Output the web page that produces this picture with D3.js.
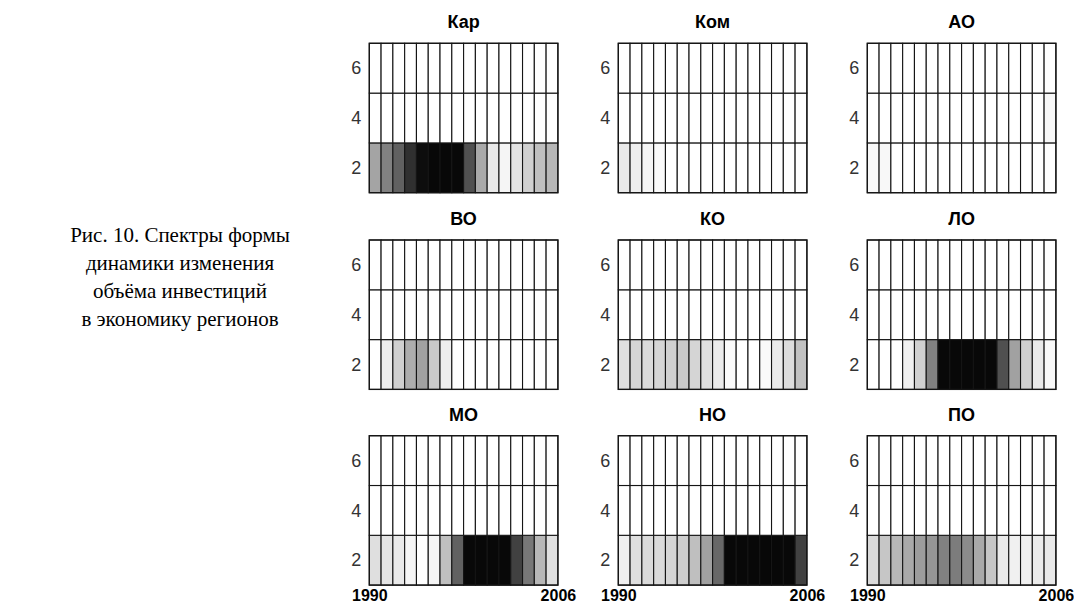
<!DOCTYPE html>
<html>
<head>
<meta charset="utf-8">
<script src="https://cdn.jsdelivr.net/npm/d3@7"></script>
<style>
  body { margin: 0; background: #fff; }
  svg { display: block; }
</style>
</head>
<body>
<div id="chart"></div>
<script>
// panels, row by row
const regions = ["Кар", "Ком", "АО", "ВО", "КО", "ЛО", "МО", "НО", "ПО"];
const levels = [2, 4, 6];
const years = d3.range(1990, 2006);      // start year of each column
const yearTicks = [1990, 2006];

// spectral intensity, 0 = white .. 100 = black (level 2 row)
const karLow = [37, 51, 64, 84, 98, 100, 100, 100, 71, 35, 9, 4, 11, 19, 26, 29];
const komLow = [9, 7, 4, 2, 0, 0, 0, 0, 0, 0, 0, 0, 0, 0, 0, 0];
const aoLow  = [3, 3, 0, 0, 0, 0, 0, 0, 0, 0, 0, 0, 0, 0, 0, 0];
const voLow  = [0, 7, 19, 33, 38, 22, 7, 0, 0, 0, 0, 0, 0, 0, 0, 0];
const koLow  = [13, 17, 15, 17, 19, 22, 17, 13, 8, 2, 0, 0, 2, 8, 14, 25];
const loLow  = [0, 0, 0, 6, 19, 51, 100, 100, 100, 100, 100, 71, 38, 19, 9, 3];
const moLow  = [13, 11, 9, 4, 0, 4, 26, 64, 100, 100, 100, 100, 77, 55, 29, 13];
const noLow  = [6, 13, 15, 15, 17, 20, 26, 38, 61, 100, 100, 100, 100, 100, 100, 77];
const poLow  = [15, 23, 29, 35, 40, 43, 51, 53, 47, 35, 23, 9, 6, 6, 8, 9];
// level 4 row: only a trace in АО
const aoMid  = [0, 0, 0, 0, 0, 0, 0, 0, 0, 0, 0, 0, 0, 0, 0, 3];

const spectra = {
  "Кар": {2: karLow}, "Ком": {2: komLow}, "АО": {2: aoLow, 4: aoMid},
  "ВО": {2: voLow}, "КО": {2: koLow}, "ЛО": {2: loLow},
  "МО": {2: moLow}, "НО": {2: noLow}, "ПО": {2: poLow}
};

const caption = ["Рис. 10. Спектры формы", "динамики изменения", "объёма инвестиций", "в экономику регионов"];

const W = 1074, H = 604;
const pw = 188.6, ph = 149.4;
const colX = [369.3, 618.3, 867.3];
const rowY = [43.3, 240, 435.7];

const svg = d3.select("#chart").append("svg")
  .attr("width", W).attr("height", H)
  .attr("viewBox", `0 0 ${W} ${H}`);

const x = d3.scaleLinear().domain([1990, 2006]).range([0, pw]);
const y = d3.scaleLinear().domain([1, 7]).range([ph, 0]);
const shade = d3.scaleLinear().domain([0, 100]).range(["#ffffff", "#080808"]);

regions.forEach((name, i) => {
  const g = svg.append("g")
    .attr("transform", `translate(${colX[i % 3]},${rowY[Math.floor(i / 3)]})`);

  const cells = [];
  levels.forEach(lv => years.forEach((yr, j) => {
    const s = spectra[name][lv];
    cells.push({lv, yr, v: s ? s[j] : 0});
  }));

  g.selectAll("rect.cell")
    .data(cells)
    .join("rect")
    .attr("class", "cell")
    .attr("x", d => x(d.yr))
    .attr("width", d => x(d.yr + 1) - x(d.yr))
    .attr("y", d => y(d.lv + 1))
    .attr("height", d => y(d.lv - 1) - y(d.lv + 1))
    .attr("fill", d => shade(d.v))
    .attr("stroke", "#151515")
    .attr("stroke-width", 1.1);

  g.append("rect")
    .attr("width", pw).attr("height", ph)
    .attr("fill", "none").attr("stroke", "#151515").attr("stroke-width", 1.3);

  g.append("text")
    .attr("x", pw / 2).attr("y", -15)
    .attr("text-anchor", "middle")
    .style("font", "bold 18px 'Liberation Sans', Arial, sans-serif")
    .text(name);

  const ya = g.append("g")
    .call(d3.axisLeft(y).tickValues(levels).tickFormat(d3.format("d")).tickSize(0).tickPadding(8));
  ya.select(".domain").remove();
  ya.selectAll("text")
    .style("font", "18px 'Liberation Sans', Arial, sans-serif")
    .attr("fill", "#333");

  if (i >= 6) {
    const xa = g.append("g")
      .attr("transform", `translate(0,${ph})`)
      .call(d3.axisBottom(x).tickValues(yearTicks).tickFormat(d3.format("d")).tickSize(0));
    xa.select(".domain").remove();
    xa.selectAll("text")
      .attr("y", 16).attr("dy", 0)
      .style("font", "bold 16px 'Liberation Sans', Arial, sans-serif")
      .attr("fill", "#000");
  }
});

svg.append("g")
  .selectAll("text")
  .data(caption)
  .join("text")
  .attr("x", 180)
  .attr("y", (d, i) => 242 + i * 28)
  .attr("text-anchor", "middle")
  .style("font", "21px 'Liberation Serif', 'Times New Roman', serif")
  .attr("fill", "#000")
  .text(d => d);
</script>
</body>
</html>
